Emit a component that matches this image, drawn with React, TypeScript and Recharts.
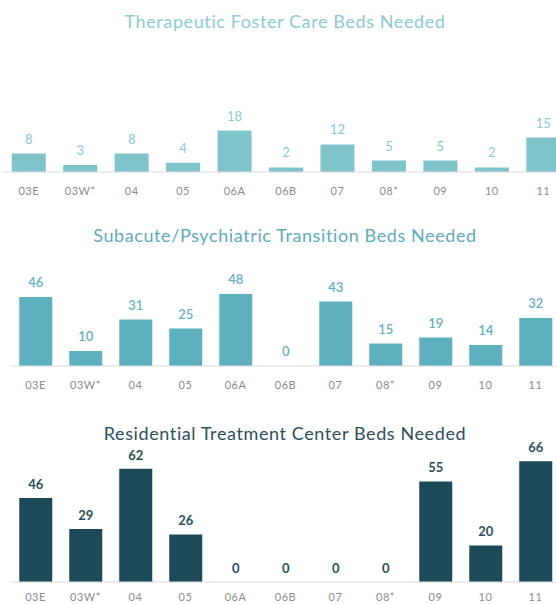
import React from 'react';
import { BarChart, Bar, XAxis, YAxis, LabelList } from 'recharts';

const categories = ['03E', '03W*', '04', '05', '06A', '06B', '07', '08*', '09', '10', '11'];
const fosterBeds = [8, 3, 8, 4, 18, 2, 12, 5, 5, 2, 15];
const subacuteBeds = [46, 10, 31, 25, 48, 0, 43, 15, 19, 14, 32];
const residentialBeds = [46, 29, 62, 26, 0, 0, 0, 0, 55, 20, 66];

const FONT = 'Lato, "Open Sans", sans-serif';

const toRows = (values: number[]) => categories.map((name, i) => ({ name, value: values[i] }));

interface PanelProps {
  title: string;
  titleColor: string;
  titleY: number;
  top: number;
  width: number;
  height: number;
  margin: { top: number; right: number; left: number; bottom: number };
  axisHeight: number;
  tickMargin: number;
  gap: string;
  max: number;
  values: number[];
  barColor: string;
  labelColor: string;
  labelWeight: number;
  labelOffset: number;
}

const Panel: React.FC<PanelProps> = (p) => (
  <>
    <div
      style={{
        position: 'absolute',
        left: 0,
        top: p.titleY - 12,
        width: 570,
        lineHeight: '24px',
        textAlign: 'center',
        fontFamily: FONT,
        fontSize: 18,
        letterSpacing: 0.6,
        color: p.titleColor,
        whiteSpace: 'nowrap',
      }}
    >
      {p.title}
    </div>
    <div style={{ position: 'absolute', left: 0, top: p.top }}>
      <BarChart width={p.width} height={p.height} data={toRows(p.values)} margin={p.margin} barCategoryGap={p.gap}>
        <XAxis
          dataKey="name"
          height={p.axisHeight}
          interval={0}
          tickLine={false}
          tickSize={0}
          tickMargin={p.tickMargin}
          axisLine={{ stroke: '#dcdcdc' }}
          tick={{ fill: '#8c8c8c', fontSize: 11, fontFamily: FONT, letterSpacing: 0.5 }}
        />
        <YAxis hide domain={[0, p.max]} />
        <Bar dataKey="value" fill={p.barColor} minPointSize={0.01} isAnimationActive={false}>
          <LabelList
            dataKey="value"
            position="top"
            offset={p.labelOffset}
            fill={p.labelColor}
            fontSize={13}
            fontFamily={FONT}
            fontWeight={p.labelWeight}
          />
        </Bar>
      </BarChart>
    </div>
  </>
);

export default function App() {
  return (
    <div
      style={{
        position: 'absolute',
        left: 0,
        top: 0,
        width: 556,
        height: 604,
        overflow: 'hidden',
        background: '#fff',
      }}
    >
      <Panel
        title="Therapeutic Foster Care Beds Needed"
        titleColor="#8ccbd1"
        titleY={21}
        top={0}
        width={570}
        height={200}
        margin={{ top: 126, right: 1, left: 3, bottom: 0 }}
        axisHeight={28}
        tickMargin={15}
        gap="17%"
        max={20}
        values={fosterBeds}
        barColor="#7ec4ca"
        labelColor="#8dcad0"
        labelWeight={400}
        labelOffset={10}
      />
      <Panel
        title="Subacute/Psychiatric Transition Beds Needed"
        titleColor="#5eacba"
        titleY={235}
        top={200}
        width={562}
        height={200}
        margin={{ top: 91, right: 1.5, left: 10.5, bottom: 0 }}
        axisHeight={34}
        tickMargin={15}
        gap="17.5%"
        max={50}
        values={subacuteBeds}
        barColor="#5fb0bf"
        labelColor="#66b1be"
        labelWeight={600}
        labelOffset={10}
      />
      <Panel
        title="Residential Treatment Center Beds Needed"
        titleColor="#2e4f59"
        titleY={433}
        top={400}
        width={562}
        height={204}
        margin={{ top: 54, right: 1.5, left: 10.5, bottom: 0 }}
        axisHeight={22}
        tickMargin={11}
        gap="17.5%"
        max={70}
        values={residentialBeds}
        barColor="#1d4a58"
        labelColor="#2c4e58"
        labelWeight={700}
        labelOffset={9}
      />
    </div>
  );
}
